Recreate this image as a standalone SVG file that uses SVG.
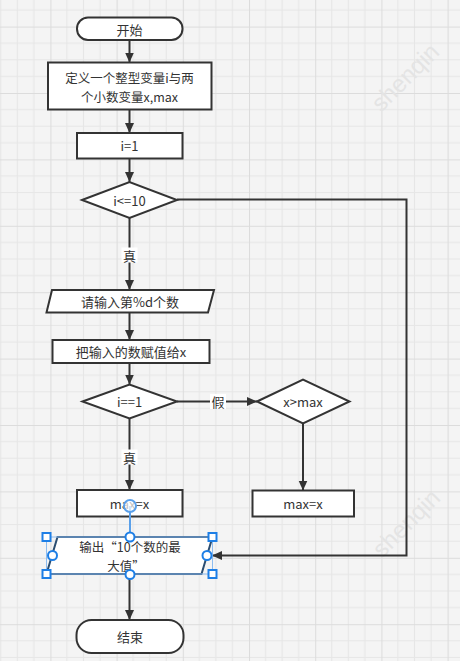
<svg xmlns="http://www.w3.org/2000/svg" width="460" height="661" viewBox="0 0 460 661">
<defs>
<pattern id="grid" patternUnits="userSpaceOnUse" x="50.4" y="26.6" width="66.2" height="66.4">
<rect x="0" y="0" width="66.2" height="66.4" fill="#f4f4f4"/>
<path d="M16.55 0V66.4M33.1 0V66.4M49.65 0V66.4M0 16.6H66.2M0 33.2H66.2M0 49.8H66.2" stroke="#e6e6e6" stroke-width="1" fill="none"/>
<path d="M0.5 0V66.4M0 0.5H66.2" stroke="#dcdcdc" stroke-width="1" fill="none"/>
</pattern>
<marker id="arr" markerUnits="userSpaceOnUse" markerWidth="11" markerHeight="10" refX="10" refY="4.5" orient="auto">
<path d="M0,0 L10,4.5 L0,9 z" fill="#333"/>
</marker>
<style>
.n{fill:#fff;stroke:#333;stroke-width:2}
.t{font-family:"Microsoft YaHei","Noto Sans CJK SC","Liberation Sans",sans-serif;font-size:13px;fill:#333;text-anchor:middle;dominant-baseline:central}
.s{font-size:12.5px}
.c{fill:none;stroke:#333;stroke-width:2}
.lb{fill:#fff}
.wm{font-family:"Liberation Sans",sans-serif;font-size:24px;fill:#e4e4e4;text-anchor:middle;dominant-baseline:central}
.h{fill:#fff;stroke:#1e7fe6;stroke-width:2}
</style>
</defs>
<rect width="460" height="661" fill="url(#grid)"/>
<text class="wm" transform="translate(405,77) rotate(-45)">shenqin</text>
<text class="wm" transform="translate(406,523) rotate(-45)">shenqin</text>

<g id="connectors">
<path class="c" d="M129.5 40V62.5" marker-end="url(#arr)"/>
<path class="c" d="M129.5 109.5V133" marker-end="url(#arr)"/>
<path class="c" d="M129.5 158.5V182" marker-end="url(#arr)"/>
<path class="c" d="M129.5 218V290" marker-end="url(#arr)"/>
<rect class="lb" x="121.5" y="247.5" width="16" height="15"/>
<text class="t" x="129.5" y="255">真</text>
<path class="c" d="M129.5 312.5V340" marker-end="url(#arr)"/>
<path class="c" d="M129.5 363V384.5" marker-end="url(#arr)"/>
<path class="c" d="M177 401.5H257" marker-end="url(#arr)"/>
<rect class="lb" x="210" y="394" width="16" height="15"/>
<text class="t" x="218" y="401.5">假</text>
<path class="c" d="M303 423V490.5" marker-end="url(#arr)"/>
<path class="c" d="M129.5 418.5V490" marker-end="url(#arr)"/>
<rect class="lb" x="121.5" y="449.5" width="16" height="15"/>
<text class="t" x="129.5" y="457">真</text>
<path class="c" d="M177 199.5H406.5V555.5H212" marker-end="url(#arr)"/>
<path class="c" d="M129.5 574V620" marker-end="url(#arr)"/>
</g>

<g id="start">
<rect class="n" x="77" y="17.5" width="105.5" height="22.5" rx="11"/>
<text class="t" x="129.5" y="29">开始</text>
</g>
<g id="define">
<rect class="n" x="48" y="62.5" width="163.5" height="47"/>
<text class="t s" x="129.5" y="77.5">定义一个整型变量i与两</text>
<text class="t s" x="129.5" y="96.5">个小数变量x,max</text>
</g>
<g id="init">
<rect class="n" x="77" y="133" width="105.5" height="25.5"/>
<text class="t" x="129.5" y="145.5">i=1</text>
</g>
<g id="cond1">
<path class="n" d="M82 200L129.5 182L177 200L129.5 218Z"/>
<text class="t" x="129.5" y="200">i&lt;=10</text>
</g>
<g id="input">
<path class="n" d="M52 290H214L208 312.5H46.5Z"/>
<text class="t" x="130" y="301">请输入第%d个数</text>
</g>
<g id="assign">
<rect class="n" x="52.5" y="340" width="157" height="23"/>
<text class="t" x="131" y="351.5">把输入的数赋值给x</text>
</g>
<g id="cond2">
<path class="n" d="M82.5 401.5L129.5 384.5L177 401.5L129.5 418.5Z"/>
<text class="t" x="129.5" y="401.5">i==1</text>
</g>
<g id="cond3">
<path class="n" d="M257 401.5L303 379.5L349.5 401.5L303 423.5Z"/>
<text class="t" x="303" y="401.5">x&gt;max</text>
</g>
<g id="setmax1">
<rect class="n" x="77" y="490" width="105.5" height="26.5"/>
<text class="t" x="129.5" y="503">max=x</text>
</g>
<g id="setmax2">
<rect class="n" x="252.5" y="490.5" width="101.5" height="26"/>
<text class="t" x="303" y="503.5">max=x</text>
</g>
<g id="output">
<path d="M57.5 537H212.5L201.5 574H46.5Z" fill="#fff" stroke="#2b4d70" stroke-width="2"/>
<text class="t s" x="130" y="546.5">输出“10个数的最</text>
<text class="t s" x="126" y="565.5">大值”</text>
</g>
<g id="end">
<rect class="n" x="76.5" y="620" width="107" height="33" rx="15"/>
<text class="t" x="130" y="636.5">结束</text>
</g>

<g id="selection">
<rect x="46.5" y="537" width="166" height="37" fill="none" stroke="#8cbcf0" stroke-width="1"/>
<path d="M130 506V537" stroke="#5aa0ea" stroke-width="2" fill="none"/>
<circle cx="130" cy="506" r="6" fill="#fff" fill-opacity="0.7" stroke="#5aa0ea" stroke-width="2"/>
<rect class="h" x="42.5" y="533" width="8" height="8"/>
<rect class="h" x="208.5" y="533" width="8" height="8"/>
<rect class="h" x="42.5" y="570" width="8" height="8"/>
<rect class="h" x="208.5" y="570" width="8" height="8"/>
<circle class="h" cx="130" cy="537" r="4.5"/>
<circle class="h" cx="130" cy="574.5" r="4.5"/>
<circle class="h" cx="52.5" cy="555.5" r="4.5"/>
<circle class="h" cx="207" cy="555.5" r="4.5"/>
</g>
</svg>
